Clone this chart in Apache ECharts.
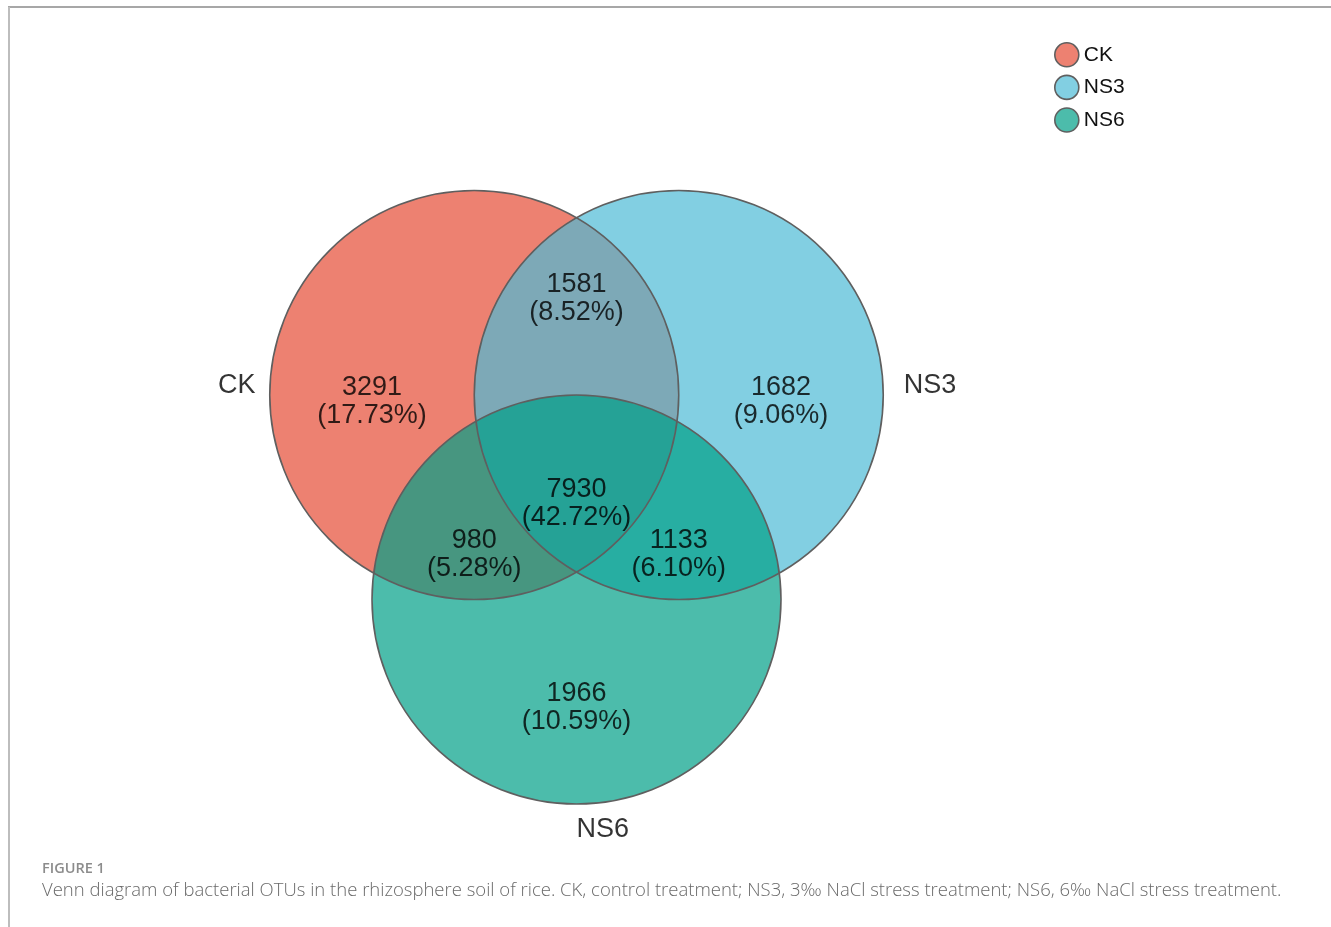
<!DOCTYPE html>
<html>
<head>
<meta charset="utf-8">
<script src="https://cdn.jsdelivr.net/npm/echarts@6/dist/echarts.min.js"></script>
<style>
  html, body { margin: 0; padding: 0; background: #ffffff; }
  #chart { width: 1331px; height: 927px; }
</style>
</head>
<body>
<div id="chart"></div>
<script>
// Treatment groups (one circle each)
const sets = ['CK', 'NS3', 'NS6'];
// Exclusive Venn regions and their OTU counts
const regions = ['CK', 'CK∩NS3', 'NS3', 'CK∩NS3∩NS6', 'CK∩NS6', 'NS3∩NS6', 'NS6'];
const counts = [3291, 1581, 1682, 7930, 980, 1133, 1966];

const total = counts.reduce((a, b) => a + b, 0);
const percents = counts.map(c => (c / total * 100).toFixed(2));

// Layout of the diagram in units of the circle radius
const circleLayout = {
  CK:  { cx: -0.5, cy: 0 },
  NS3: { cx: 0.5,  cy: 0 },
  NS6: { cx: 0,    cy: -1 }
};
const regionAnchor = {
  'CK':          [-1.0, -0.03],
  'CK∩NS3':      [0, 0.47],
  'NS3':         [1.0, -0.03],
  'CK∩NS3∩NS6':  [0, -0.53],
  'CK∩NS6':      [-0.5, -0.78],
  'NS3∩NS6':     [0.5, -0.78],
  'NS6':         [0, -1.53]
};
const setLabelAnchor = {
  CK:  { pos: [-1.57, 0.045], align: 'right' },
  NS3: { pos: [1.60, 0.045],  align: 'left' },
  NS6: { pos: [0.0, -2.125], align: 'left' }
};
const palette = {
  CK:  'rgba(230,75,53,0.7)',
  NS3: 'rgba(77,187,213,0.7)',
  NS6: 'rgba(0,160,135,0.7)'
};
const outline = '#5f5f5f';
const font = 'Liberation Sans, Arial, Helvetica, sans-serif';

const chart = echarts.init(document.getElementById('chart'), null, { renderer: 'canvas' });

function circleRender(fill, stroke) {
  return function (params, api) {
    const c = api.coord([api.value(0), api.value(1)]);
    const r = api.size([api.value(2), 0])[0];
    return {
      type: 'circle',
      shape: { cx: c[0], cy: c[1], r: r },
      style: { fill: fill, stroke: stroke, lineWidth: 1.6 },
      silent: true
    };
  };
}

const fillSeries = sets.map(name => ({
  name: name,
  type: 'custom',
  coordinateSystem: 'cartesian2d',
  itemStyle: { color: palette[name] },
  renderItem: circleRender(palette[name], null),
  data: [[circleLayout[name].cx, circleLayout[name].cy, 1]],
  z: 2,
  clip: false
}));

const outlineSeries = {
  type: 'custom',
  coordinateSystem: 'cartesian2d',
  renderItem: circleRender(null, outline),
  data: sets.map(name => [circleLayout[name].cx, circleLayout[name].cy, 1]),
  z: 3,
  clip: false
};

const regionLabels = {
  type: 'scatter',
  symbolSize: 0,
  clip: false,
  z: 5,
  silent: true,
  data: regions.map((r, i) => ({
    value: regionAnchor[r],
    label: {
      show: true,
      position: 'inside',
      formatter: counts[i] + '\n(' + percents[i] + '%)',
      color: '#000',
      textBorderWidth: 0,
      fontFamily: font,
      fontSize: 27,
      lineHeight: 28,
      align: 'center',
      verticalAlign: 'middle'
    }
  }))
};

const setLabels = {
  type: 'scatter',
  symbolSize: 0,
  clip: false,
  z: 5,
  silent: true,
  data: sets.map(s => ({
    value: setLabelAnchor[s].pos,
    label: {
      show: true,
      position: 'inside',
      formatter: s,
      color: '#000',
      textBorderWidth: 0,
      fontFamily: font,
      fontSize: 27,
      align: setLabelAnchor[s].align,
      verticalAlign: 'middle'
    }
  }))
};

const option = {
  backgroundColor: '#ffffff',
  animation: false,
  grid: { left: 65.25, top: 88.25, width: 1022.5, height: 818 },
  xAxis: { type: 'value', min: -2.5, max: 2.5, show: false },
  yAxis: { type: 'value', min: -2.5, max: 1.5, show: false },
  legend: {
    orient: 'vertical',
    left: 1049,
    top: 37,
    itemWidth: 24,
    itemHeight: 24,
    itemGap: 7,
    icon: 'circle',
    selectedMode: false,
    itemStyle: { borderColor: outline, borderWidth: 1.6 },
    textStyle: { fontFamily: font, fontSize: 21, lineHeight: 24, color: '#111', padding: [0, 0, 0, 0] },
    data: sets
  },
  series: [...fillSeries, outlineSeries, regionLabels, setLabels],
  graphic: [
    { type: 'line', shape: { x1: 8, y1: 7, x2: 1331, y2: 7 }, style: { stroke: '#8a8a8a', lineWidth: 1.5 } },
    { type: 'line', shape: { x1: 9, y1: 7, x2: 9, y2: 927 }, style: { stroke: '#bdbdbd', lineWidth: 2 } },
    {
      type: 'text', left: 42, top: 861,
      style: { text: 'FIGURE 1', fill: '#8c8c8c', font: '600 14.5px "Open Sans", sans-serif' }
    },
    {
      type: 'text', left: 42, top: 881,
      style: {
        text: 'Venn diagram of bacterial OTUs in the rhizosphere soil of rice. CK, control treatment; NS3, 3‰ NaCl stress treatment; NS6, 6‰ NaCl stress treatment.',
        fill: '#6a6a6a',
        font: '300 18.5px "Open Sans", sans-serif'
      }
    }
  ]
};

chart.setOption(option);
</script>
</body>
</html>
